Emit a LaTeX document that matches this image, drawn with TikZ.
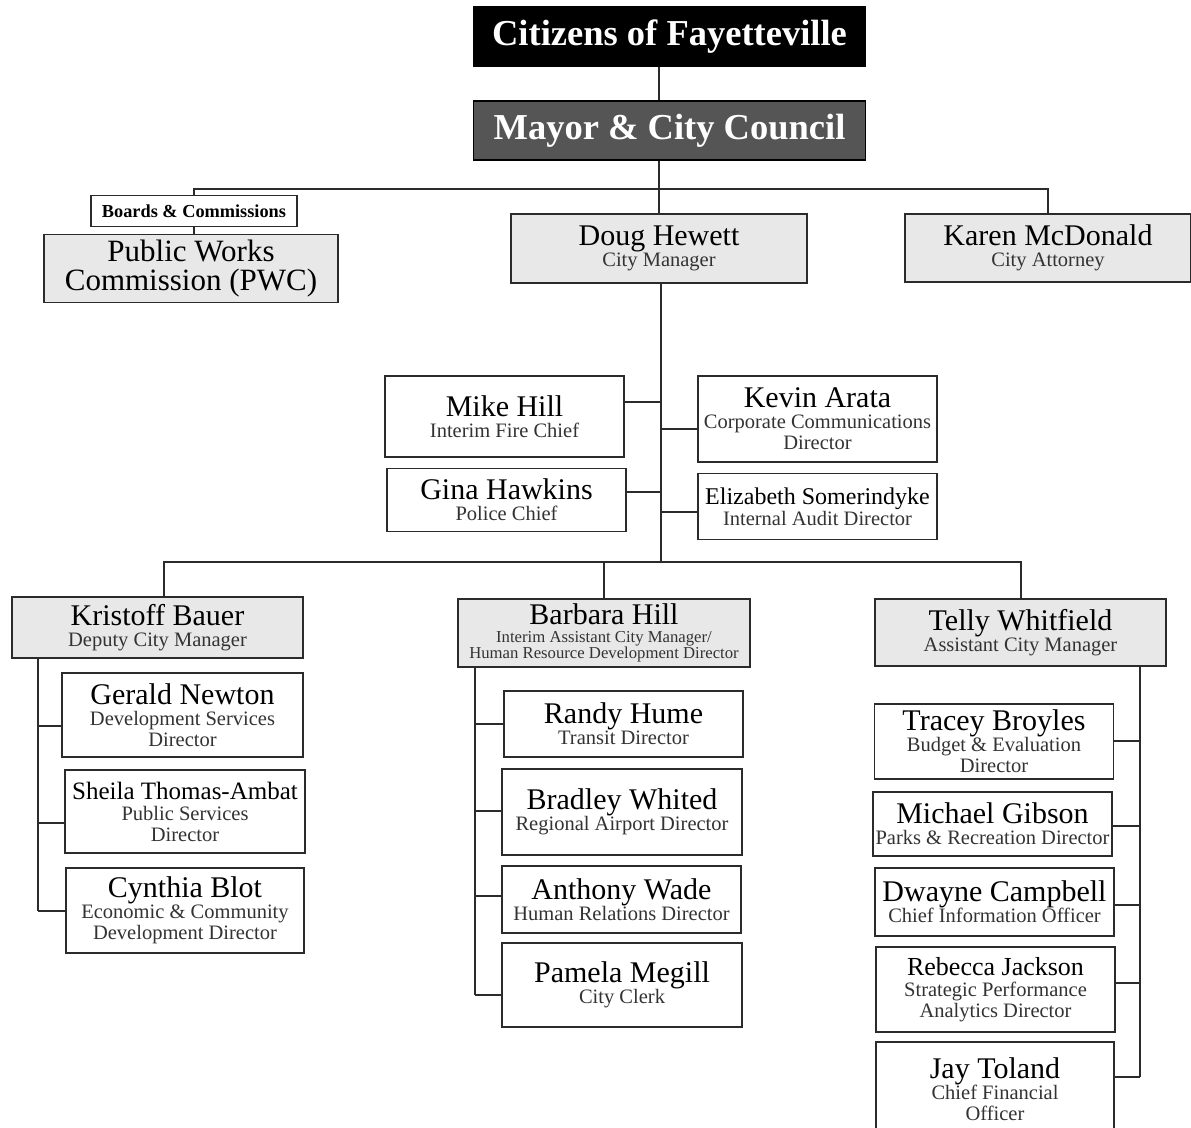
\documentclass[tikz,border=0pt]{standalone}
\usepackage{fontspec}
\setmainfont{Liberation Serif}

\definecolor{linegray}{HTML}{2B2B2B}
\definecolor{boxgray}{HTML}{E8E8E8}
\definecolor{councilgray}{HTML}{555555}
\definecolor{rolegray}{HTML}{333333}

\newcommand{\role}[1]{{\fontsize{20.5}{21}\selectfont\color{rolegray}#1}}
\newcommand{\rolesmall}[1]{{\fontsize{16.7}{15}\selectfont\color{rolegray}#1}}
\newcommand{\smallname}[1]{{\fontsize{25}{21}\selectfont #1}}

\tikzset{
  link/.style={draw=linegray, line width=2pt},
  staff/.style={draw=linegray, line width=1.8pt, fill=white, align=center,
    inner sep=0pt, minimum width=239pt, font=\fontsize{30}{21}\selectfont},
  lead/.style={staff, fill=boxgray},
  council/.style={draw=black, line width=1.5pt, text=white, inner sep=0pt,
    minimum width=392pt, minimum height=59pt, font=\bfseries\fontsize{36.5}{37}\selectfont}
}

\begin{document}
\begin{tikzpicture}[x=1pt, y=-1pt]
  \useasboundingbox (0,0) rectangle (1191,1127);

  % Top of the chart
  \node[council, fill=black] (citizens) at (669.5,36.5) {Citizens of Fayetteville};
  \node[council, fill=councilgray] (mayor) at (669.5,130.5) {Mayor \& City Council};

  \coordinate (spine) at (659,189);
  \coordinate (hub) at (661,562);

  \node[staff, minimum width=206pt, minimum height=31pt, font=\bfseries\fontsize{18.3}{20}\selectfont]
    (boards) at (194,211) {Boards \& Commissions};
  \node[lead, minimum width=294pt, minimum height=68pt, font=\fontsize{31}{29}\selectfont]
    (pwc) at (191,268.5) {Public Works\\Commission (PWC)};
  \node[lead, minimum width=296pt, minimum height=69pt] (doug) at (659,248.5)
    {Doug Hewett\\\role{City Manager}};
  \node[lead, minimum width=286pt, minimum height=68pt] (karen) at (1048,248)
    {Karen McDonald\\\role{City Attorney}};

  % Reporting straight to the city manager
  \node[staff, minimum height=81pt] (mike) at (504.5,416.5) {Mike Hill\\\role{Interim Fire Chief}};
  \node[staff, minimum height=86pt] (kevin) at (817.5,419)
    {Kevin Arata\\\role{Corporate Communications}\\\role{Director}};
  \node[staff, minimum height=63pt] (gina) at (506.5,500) {Gina Hawkins\\\role{Police Chief}};
  \node[staff, minimum height=66pt] (elizabeth) at (817.5,506.5)
    {{\fontsize{24}{21}\selectfont Elizabeth Somerindyke}\\\role{Internal Audit Director}};

  % Three branch heads
  \node[lead, minimum width=291pt, minimum height=61pt] (kristoff) at (157.5,627.5)
    {Kristoff Bauer\\\role{Deputy City Manager}};
  \node[lead, minimum width=292pt, minimum height=68pt, font=\fontsize{30}{15}\selectfont]
    (barbara) at (604,633)
    {Barbara Hill\\[3pt]\rolesmall{Interim Assistant City Manager/}\\\rolesmall{Human Resource Development Director}};
  \node[lead, minimum width=291pt, minimum height=67pt] (telly) at (1020.5,632.5)
    {Telly Whitfield\\\role{Assistant City Manager}};

  % Left branch
  \node[staff, minimum width=241pt, minimum height=84pt] (gerald) at (182.5,715)
    {Gerald Newton\\\role{Development Services}\\\role{Director}};
  \node[staff, minimum width=240pt, minimum height=83pt] (sheila) at (185,811.5)
    {\smallname{Sheila Thomas-Ambat}\\\role{Public Services}\\\role{Director}};
  \node[staff, minimum width=238pt, minimum height=85pt] (cynthia) at (185,910.5)
    {Cynthia Blot\\\role{Economic \& Community}\\\role{Development Director}};

  % Middle branch
  \node[staff, minimum height=66pt] (randy) at (623.5,724) {Randy Hume\\\role{Transit Director}};
  \node[staff, minimum width=240pt, minimum height=86pt] (bradley) at (622,812)
    {Bradley Whited\\\role{Regional Airport Director}};
  \node[staff, minimum height=67pt] (anthony) at (621.5,899.5)
    {Anthony Wade\\\role{Human Relations Director}};
  \node[staff, minimum width=240pt, minimum height=84pt] (pamela) at (622,985)
    {Pamela Megill\\\role{City Clerk}};

  % Right branch
  \node[staff, minimum height=75pt] (tracey) at (994,741.5)
    {Tracey Broyles\\\role{Budget \& Evaluation}\\\role{Director}};
  \node[staff, minimum height=64pt] (michael) at (992.5,824)
    {Michael Gibson\\\role{Parks \& Recreation Director}};
  \node[staff, minimum height=68pt] (dwayne) at (994.5,902)
    {Dwayne Campbell\\\role{Chief Information Officer}};
  \node[staff, minimum height=85pt] (rebecca) at (995.5,989.5)
    {{\fontsize{26}{21}\selectfont Rebecca Jackson}\\\role{Strategic Performance}\\\role{Analytics Director}};
  \node[staff, minimum width=238pt, minimum height=95pt] (jay) at (995,1089.5)
    {Jay Toland\\\role{Chief Financial}\\\role{Officer}};

  % Connectors at the top
  \draw[link] (citizens.south -| spine) -- (mayor.north -| spine);
  \draw[link] (mayor.south -| spine) -- (spine);
  \draw[link] (boards.north) |- (spine) -| (karen.north);
  \draw[link] (spine) -- (doug.north -| spine);
  \draw[link] (boards.south) -- (boards.south |- pwc.north);
  \draw[link] (doug.south -| hub) -- (hub);

  % Side boxes beside the trunk
  \foreach \who/\dy in {mike/14.5, gina/8}
    \draw[link] ([yshift=\dy pt]\who.east) -- ([yshift=\dy pt]\who.east -| hub);
  \foreach \who/\dy in {kevin/-10, elizabeth/-5}
    \draw[link] ([yshift=\dy pt]\who.west) -- ([yshift=\dy pt]\who.west -| hub);

  % Bus to the branch heads
  \draw[link] ([xshift=6.5pt]kristoff.north) |- (hub) -| (telly.north);
  \draw[link] (barbara.north |- hub) -- (barbara.north);

  % Branch buses
  \coordinate (kbus) at (38,658);
  \coordinate (mbus) at (475,667);
  \coordinate (rbus) at (1140,666);

  \draw[link] (kristoff.south -| kbus) -- (cynthia.west -| kbus);
  \foreach \who/\dy in {gerald/-10.5, sheila/-11.5, cynthia/0}
    \draw[link] ([yshift=\dy pt]\who.west) -- ([yshift=\dy pt]\who.west -| kbus);

  \draw[link] (barbara.south -| mbus) -- ([yshift=-10pt]pamela.west -| mbus);
  \foreach \who/\dy in {randy/0, bradley/1, anthony/3.5, pamela/-10}
    \draw[link] ([yshift=\dy pt]\who.west) -- ([yshift=\dy pt]\who.west -| mbus);

  \draw[link] (telly.south -| rbus) -- ([yshift=12.5pt]jay.east -| rbus);
  \foreach \who/\dy in {tracey/0.5, michael/-2, dwayne/-3, rebecca/6.5, jay/12.5}
    \draw[link] ([yshift=\dy pt]\who.east) -- ([yshift=\dy pt]\who.east -| rbus);

\end{tikzpicture}
\end{document}
